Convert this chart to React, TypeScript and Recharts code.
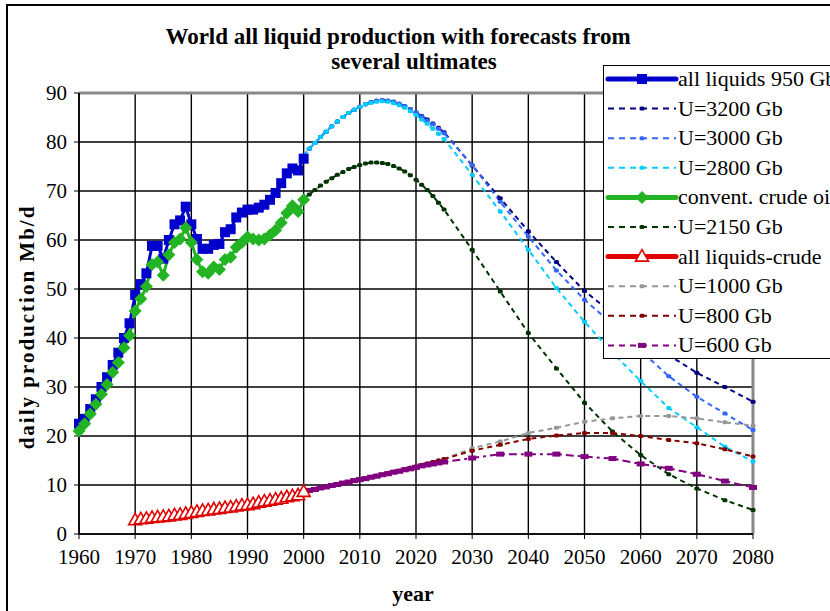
import React from "react";
import {
  CartesianGrid,
  Line,
  LineChart,
  ReferenceLine,
  XAxis,
  YAxis,
} from "recharts";

const FONT = "Liberation Serif, Times New Roman, serif";

// historical years (annual)
const histYears = [
  1960, 1961, 1962, 1963, 1964, 1965, 1966, 1967, 1968, 1969, 1970, 1971, 1972,
  1973, 1974, 1975, 1976, 1977, 1978, 1979, 1980, 1981, 1982, 1983, 1984, 1985,
  1986, 1987, 1988, 1989, 1990, 1991, 1992, 1993, 1994, 1995, 1996, 1997, 1998,
  1999, 2000,
];
const allLiquids = [
  22.5, 23.5, 25.5, 27.5, 30, 32, 34.5, 37, 40, 43, 48.8, 51, 53.2, 58.8, 58.8,
  56.2, 60, 63.2, 64, 66.8, 63.2, 60.2, 58.2, 58.2, 59, 59.2, 61.6, 62.2, 64.6,
  65.6, 66.2, 66.2, 66.6, 67.2, 68.2, 69.6, 71.6, 73.6, 74.6, 74.2, 76.6,
];
const crudeOil = [
  21, 22.5, 24.5, 26.5, 28.5, 30.5, 33, 35, 38, 40.5, 45.5, 48, 50.5, 55, 55.5,
  52.8, 57, 59.5, 60.2, 62.5, 59.5, 56, 53.5, 53.2, 54.5, 54, 56, 56.5, 58.5,
  59.5, 60.6, 60.2, 60, 60.2, 61, 62, 63.5, 65.5, 67, 65.8, 68.2,
];

// liquids minus crude, 1970-2000
const ngYears = [
  1970, 1971, 1972, 1973, 1974, 1975, 1976, 1977, 1978, 1979, 1980, 1981, 1982,
  1983, 1984, 1985, 1986, 1987, 1988, 1989, 1990, 1991, 1992, 1993, 1994, 1995,
  1996, 1997, 1998, 1999, 2000,
];
const liquidsMinusCrude = [
  2.8, 3.0, 3.1, 3.3, 3.4, 3.5, 3.6, 3.8, 3.9, 4.1, 4.3, 4.5, 4.7, 4.8, 5.0, 5.1,
  5.3, 5.4, 5.6, 5.8, 5.9, 6.1, 6.4, 6.6, 6.8, 7.0, 7.2, 7.5, 7.7, 7.9, 8.6,
];

// forecast years
const fcYears = [
  2000, 2001, 2002, 2003, 2004, 2005, 2006, 2007, 2008, 2009, 2010, 2011, 2012,
  2013, 2014, 2015, 2016, 2017, 2018, 2019, 2020, 2021, 2022, 2023, 2024, 2025,
  2030, 2035, 2040, 2045, 2050, 2055, 2060, 2065, 2070, 2075, 2080,
];
const u3200 = [
  77.2, 78.6, 79.8, 81.0, 82.1, 83.2, 84.2, 85.1, 85.9, 86.6, 87.2, 87.7, 88.1,
  88.4, 88.5, 88.4, 88.2, 87.8, 87.3, 86.7, 86.0, 85.3, 84.6, 83.8, 82.9, 82.0,
  75.2, 68.5, 61.8, 55.5, 49.6, 45.0, 40.5, 36.5, 32.9, 30.0, 27.0,
];
const u3000 = [
  77.2, 78.6, 79.8, 81.0, 82.1, 83.2, 84.2, 85.1, 85.9, 86.6, 87.2, 87.7, 88.1,
  88.4, 88.5, 88.4, 88.2, 87.8, 87.3, 86.7, 86.0, 85.2, 84.4, 83.6, 82.7, 81.8,
  75.3, 67.8, 60.7, 53.8, 47.8, 42.8, 37.4, 32.2, 28.0, 24.6, 21.2,
];
const u2800 = [
  77.2, 78.6, 79.8, 81.0, 82.1, 83.2, 84.2, 85.1, 85.9, 86.6, 87.2, 87.7, 88.0,
  88.2, 88.3, 88.2, 87.9, 87.5, 87.0, 86.3, 85.5, 84.6, 83.7, 82.7, 81.7, 80.6,
  73.3, 65.8, 58.0, 50.2, 43.3, 37.0, 31.2, 25.7, 21.8, 17.8, 14.8,
];
const u2150 = [
  68.3, 69.3, 70.2, 71.1, 71.9, 72.6, 73.3, 73.9, 74.5, 74.9, 75.3, 75.6, 75.8,
  75.8, 75.7, 75.5, 75.1, 74.6, 74.0, 73.2, 72.3, 71.3, 70.2, 69.0, 67.6, 66.2,
  58.0, 49.5, 41.0, 33.8, 26.8, 20.9, 16.1, 12.2, 9.3, 6.9, 4.9,
];
const u1000 = [
  8.6, 8.9, 9.1, 9.4, 9.6, 9.9, 10.1, 10.4, 10.6, 10.9, 11.1, 11.4, 11.6, 11.9,
  12.1, 12.4, 12.7, 12.9, 13.2, 13.5, 13.8, 14.1, 14.4, 14.7, 15.0, 15.3, 17.5,
  18.9, 20.6, 21.7, 22.9, 23.6, 24.1, 24.1, 23.6, 22.8, 22.1,
];
const u800 = [
  8.6, 8.9, 9.1, 9.4, 9.6, 9.9, 10.1, 10.4, 10.6, 10.9, 11.1, 11.4, 11.6, 11.9,
  12.1, 12.4, 12.7, 12.9, 13.2, 13.5, 13.8, 14.1, 14.4, 14.7, 15.0, 15.3, 17.0,
  18.2, 19.4, 20.1, 20.6, 20.6, 20.0, 19.2, 18.5, 17.3, 15.8,
];
const u600 = [
  8.6, 8.9, 9.1, 9.4, 9.6, 9.9, 10.1, 10.4, 10.6, 10.9, 11.1, 11.3, 11.6, 11.8,
  12.1, 12.3, 12.6, 12.8, 13.1, 13.3, 13.6, 13.9, 14.1, 14.3, 14.5, 14.7, 15.5,
  16.3, 16.3, 16.3, 15.8, 15.4, 14.3, 13.4, 12.2, 10.8, 9.5,
];

const xTicks = [
  1960, 1970, 1980, 1990, 2000, 2010, 2020, 2030, 2040, 2050, 2060, 2070, 2080,
];
const yTicks = [0, 10, 20, 30, 40, 50, 60, 70, 80, 90];

type Row = { year: number; [k: string]: number };

function buildRows(): Row[] {
  const map = new Map<number, Row>();
  const put = (years: number[], vals: number[], key: string) => {
    years.forEach((y, i) => {
      const row = map.get(y) ?? { year: y };
      row[key] = vals[i];
      map.set(y, row);
    });
  };
  put(histYears, allLiquids, "all");
  put(histYears, crudeOil, "crude");
  put(ngYears, liquidsMinusCrude, "ng");
  put(fcYears, u3200, "u3200");
  put(fcYears, u3000, "u3000");
  put(fcYears, u2800, "u2800");
  put(fcYears, u2150, "u2150");
  put(fcYears, u1000, "u1000");
  put(fcYears, u800, "u800");
  put(fcYears, u600, "u600");
  return Array.from(map.values()).sort((a, b) => a.year - b.year);
}

const rows = buildRows();

type Marker = "square" | "diamond" | "triangle" | "small" | "wide";

type SeriesDef = {
  key: string;
  name: string;
  color: string;
  solid: boolean;
  marker: Marker;
};

const series: SeriesDef[] = [
  { key: "all", name: "all liquids 950 Gb", color: "#0000CC", solid: true, marker: "square" },
  { key: "u3200", name: "U=3200 Gb", color: "#000080", solid: false, marker: "small" },
  { key: "u3000", name: "U=3000 Gb", color: "#3366FF", solid: false, marker: "small" },
  { key: "u2800", name: "U=2800 Gb", color: "#00CCFF", solid: false, marker: "small" },
  { key: "crude", name: "convent. crude oil", color: "#22B422", solid: true, marker: "diamond" },
  { key: "u2150", name: "U=2150 Gb", color: "#003300", solid: false, marker: "small" },
  { key: "ng", name: "all liquids-crude", color: "#E00000", solid: true, marker: "triangle" },
  { key: "u1000", name: "U=1000 Gb", color: "#969696", solid: false, marker: "small" },
  { key: "u800", name: "U=800 Gb", color: "#800000", solid: false, marker: "small" },
  { key: "u600", name: "U=600 Gb", color: "#800080", solid: false, marker: "wide" },
];

function markerShape(m: Marker, color: string, cx: number, cy: number, key: string) {
  switch (m) {
    case "square":
      return <rect key={key} x={cx - 5} y={cy - 5} width={10} height={10} fill={color} />;
    case "diamond":
      return (
        <polygon
          key={key}
          points={`${cx},${cy - 6.5} ${cx + 6.5},${cy} ${cx},${cy + 6.5} ${cx - 6.5},${cy}`}
          fill={color}
        />
      );
    case "triangle":
      return (
        <polygon
          key={key}
          points={`${cx},${cy - 7} ${cx + 6.5},${cy + 4.5} ${cx - 6.5},${cy + 4.5}`}
          fill="#fff"
          stroke={color}
          strokeWidth={1.6}
        />
      );
    case "wide":
      return <rect key={key} x={cx - 4} y={cy - 2.5} width={8} height={5} fill={color} />;
    default:
      return <rect key={key} x={cx - 2.5} y={cy - 2} width={5} height={4} rx={1.5} fill={color} />;
  }
}

function dotFor(s: SeriesDef) {
  return (props: any) => {
    const { cx, cy, index } = props;
    const key = `${s.key}-${index}`;
    if (cx == null || cy == null || Number.isNaN(cx) || Number.isNaN(cy)) return <g key={key} />;
    return markerShape(s.marker, s.color, cx, cy, key);
  };
}

function LegendBox() {
  const rowH = 29.6;
  return (
    <div
      style={{
        position: "absolute",
        left: 603,
        top: 65,
        width: 240,
        height: 294,
        border: "1px solid #000",
        background: "#fff",
        boxSizing: "border-box",
      }}
    >
      <svg width={240} height={294}>
        {series.map((s, i) => {
          const y = 13 + i * rowH;
          return (
            <g key={s.key}>
              {s.solid ? (
                <line x1={4} x2={72} y1={y} y2={y} stroke={s.color} strokeWidth={5} strokeLinecap="round" />
              ) : (
                <line x1={4} x2={72} y1={y} y2={y} stroke={s.color} strokeWidth={2} strokeDasharray="6 5" />
              )}
              {markerShape(s.marker, s.color, 38, y, `lm-${s.key}`)}
              <text x={74} y={y + 7} fontFamily={FONT} fontSize={22} fill="#000">
                {s.name}
              </text>
            </g>
          );
        })}
      </svg>
    </div>
  );
}

export default function App() {
  const tickStyle = { fontFamily: FONT, fontSize: 21, fill: "#000" };
  const forecasts = series.filter((s) => !s.solid);
  const history = series.filter((s) => s.solid);
  return (
    <div style={{ position: "absolute", left: 0, top: 0, width: 830, height: 611, background: "#fff", overflow: "hidden" }}>
      <LineChart width={830} height={611} data={rows} margin={{ top: 93, right: 77, left: 19, bottom: 37 }}>
        <CartesianGrid stroke="#000" strokeWidth={1.4} />
        <XAxis
          dataKey="year"
          type="number"
          domain={[1960, 2080]}
          ticks={xTicks}
          interval={0}
          height={40}
          tick={tickStyle}
          tickSize={5}
          tickMargin={10}
          stroke="#000"
          axisLine={{ stroke: "#000", strokeWidth: 1.6 }}
        />
        <YAxis
          type="number"
          domain={[0, 90]}
          ticks={yTicks}
          interval={0}
          width={60}
          tick={tickStyle}
          tickSize={5}
          tickMargin={7}
          stroke="#000"
          axisLine={{ stroke: "#000", strokeWidth: 1.6 }}
        />
        <ReferenceLine y={90} stroke="#888" strokeWidth={3} />
        <ReferenceLine x={2080} stroke="#888" strokeWidth={3} />
        {forecasts.map((s) => (
          <Line
            key={s.key}
            dataKey={s.key}
            name={s.name}
            stroke={s.color}
            strokeWidth={2}
            strokeDasharray={s.key === "u600" ? "8 4 3 4" : "5 4"}
            dot={dotFor(s)}
            activeDot={false}
            isAnimationActive={false}
            connectNulls
            type="linear"
          />
        ))}
        {history.map((s) => (
          <Line
            key={s.key}
            dataKey={s.key}
            name={s.name}
            stroke={s.color}
            strokeWidth={s.key === "ng" ? 2 : 3}
            dot={dotFor(s)}
            activeDot={false}
            isAnimationActive={false}
            type="linear"
          />
        ))}
      </LineChart>
      <svg width={830} height={611} style={{ position: "absolute", left: 0, top: 0, pointerEvents: "none" }}>
        <line x1={7} y1={5} x2={7} y2={611} stroke="#000" strokeWidth={2} />
        <line x1={6} y1={5} x2={830} y2={5} stroke="#000" strokeWidth={2} />
        <text x={398} y={44} textAnchor="middle" fontFamily={FONT} fontWeight="bold" fontSize={23}>
          World all liquid production with forecasts from
        </text>
        <text x={414} y={69} textAnchor="middle" fontFamily={FONT} fontWeight="bold" fontSize={23}>
          several ultimates
        </text>
        <text x={413} y={601} textAnchor="middle" fontFamily={FONT} fontWeight="bold" fontSize={22}>
          year
        </text>
        <text
          x={0}
          y={0}
          transform="translate(34,327) rotate(-90)"
          textAnchor="middle"
          fontFamily={FONT}
          fontWeight="bold"
          fontSize={21}
          letterSpacing={2}
        >
          daily production Mb/d
        </text>
      </svg>
      <LegendBox />
    </div>
  );
}
